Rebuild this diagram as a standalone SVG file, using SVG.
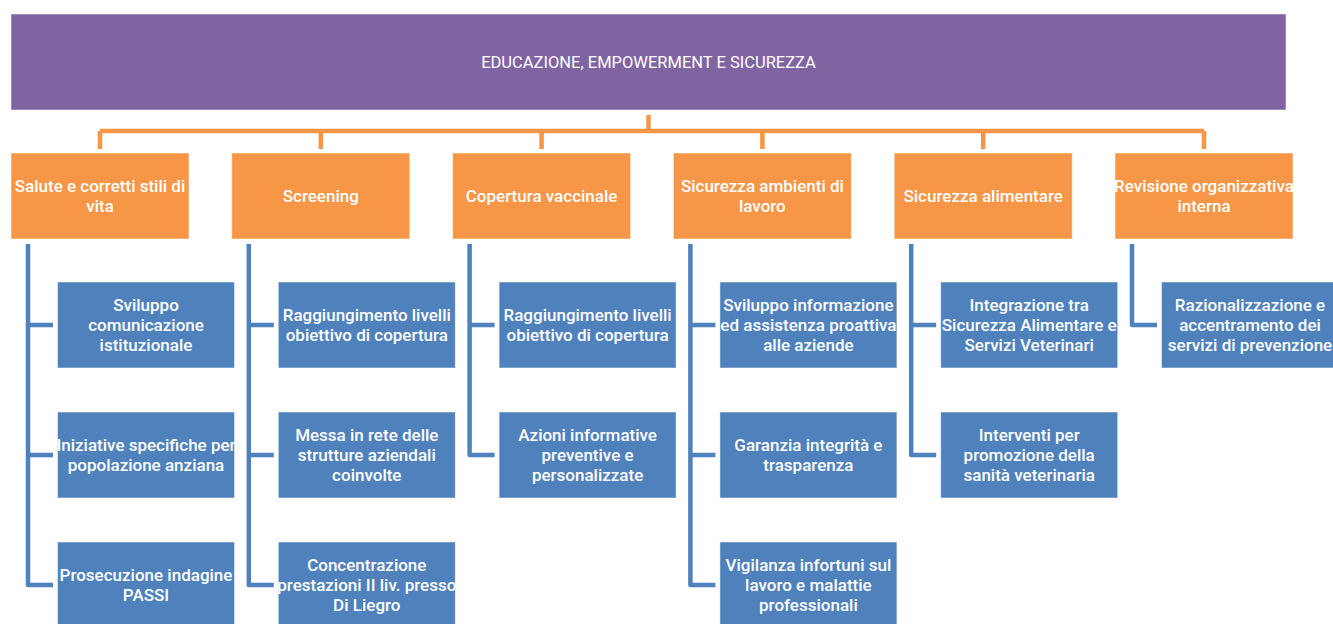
<svg xmlns="http://www.w3.org/2000/svg" width="1333" height="624" viewBox="0 0 1333 624">
<style>
.top{fill:#8064A2;stroke:#fff;stroke-opacity:0.5;stroke-width:1}
.lvl1{fill:#F79646;stroke:#fff;stroke-opacity:0.5;stroke-width:1}
.lvl2{fill:#4F81BD;stroke:#fff;stroke-opacity:0.5;stroke-width:1}
.t{font-family:Roboto,"Liberation Sans",sans-serif;font-weight:500;font-size:17px;fill:#fff;text-anchor:middle}
.tt{font-family:Roboto,"Liberation Sans",sans-serif;font-weight:400;font-size:16.5px;fill:#fff;text-anchor:middle}
.oc{fill:none;stroke:#F79646;stroke-width:4.5}
.bc{fill:none;stroke:#4F81BD;stroke-width:4.5;stroke-linejoin:round}
</style>
<rect width="1333" height="624" fill="#fff"/>
<g id="connectors">
<path class="oc" d="M648.5,115 V131 M100,131 H1204 M100,131 V149 M320.8,131 V149 M541.6,131 V149 M762.4,131 V149 M983.2,131 V149 M1204,131 V149"/>
<path class="bc" d="M28,244 V585 H53 M28,325 H53 M28,455 H53"/>
<path class="bc" d="M248.8,244 V585 H273.8 M248.8,325 H273.8 M248.8,455 H273.8"/>
<path class="bc" d="M469.6,244 V455 H494.6 M469.6,325 H494.6"/>
<path class="bc" d="M690.4,244 V585 H715.4 M690.4,325 H715.4 M690.4,455 H715.4"/>
<path class="bc" d="M911.2,244 V455 H936.2 M911.2,325 H936.2"/>
<path class="bc" d="M1132,244 V325 H1157"/>
</g>
<g id="root"><rect class="top" x="11" y="14" width="1275" height="96"/><text class="tt" x="648.5" y="68">EDUCAZIONE, EMPOWERMENT E SICUREZZA</text></g>

<g id="n1"><rect class="lvl1" x="11" y="153" width="178" height="86"/><text class="t"><tspan x="100" y="192">Salute e corretti stili di</tspan><tspan x="100" y="212">vita</tspan></text></g>
<g id="n2"><rect class="lvl1" x="231.8" y="153" width="178" height="86"/><text class="t" x="320.8" y="202">Screening</text></g>
<g id="n3"><rect class="lvl1" x="452.6" y="153" width="178" height="86"/><text class="t" x="541.6" y="202">Copertura vaccinale</text></g>
<g id="n4"><rect class="lvl1" x="673.4" y="153" width="178" height="86"/><text class="t"><tspan x="762.4" y="192">Sicurezza ambienti di</tspan><tspan x="762.4" y="212">lavoro</tspan></text></g>
<g id="n5"><rect class="lvl1" x="894.2" y="153" width="178" height="86"/><text class="t" x="983.2" y="202">Sicurezza alimentare</text></g>
<g id="n6"><rect class="lvl1" x="1115" y="153" width="178" height="86"/><text class="t"><tspan x="1204" y="192">Revisione organizzativa</tspan><tspan x="1204" y="212">interna</tspan></text></g>

<g id="n1a"><rect class="lvl2" x="57.5" y="282" width="177" height="86"/><text class="t"><tspan x="146" y="311">Sviluppo</tspan><tspan x="146" y="331">comunicazione</tspan><tspan x="146" y="351">istituzionale</tspan></text></g>
<g id="n1b"><rect class="lvl2" x="57.5" y="412" width="177" height="86"/><text class="t"><tspan x="146" y="451">Iniziative specifiche per</tspan><tspan x="146" y="471">popolazione anziana</tspan></text></g>
<g id="n1c"><rect class="lvl2" x="57.5" y="542" width="177" height="86"/><text class="t"><tspan x="146" y="581">Prosecuzione indagine</tspan><tspan x="146" y="601">PASSI</tspan></text></g>

<g id="n2a"><rect class="lvl2" x="278.3" y="282" width="177" height="86"/><text class="t"><tspan x="366.8" y="321">Raggiungimento livelli</tspan><tspan x="366.8" y="341">obiettivo di copertura</tspan></text></g>
<g id="n2b"><rect class="lvl2" x="278.3" y="412" width="177" height="86"/><text class="t"><tspan x="366.8" y="441">Messa in rete delle</tspan><tspan x="366.8" y="461">strutture aziendali</tspan><tspan x="366.8" y="481">coinvolte</tspan></text></g>
<g id="n2c"><rect class="lvl2" x="278.3" y="542" width="177" height="86"/><text class="t"><tspan x="366.8" y="571">Concentrazione</tspan><tspan x="366.8" y="591">prestazioni II liv. presso</tspan><tspan x="366.8" y="611">Di Liegro</tspan></text></g>

<g id="n3a"><rect class="lvl2" x="499.1" y="282" width="177" height="86"/><text class="t"><tspan x="587.6" y="321">Raggiungimento livelli</tspan><tspan x="587.6" y="341">obiettivo di copertura</tspan></text></g>
<g id="n3b"><rect class="lvl2" x="499.1" y="412" width="177" height="86"/><text class="t"><tspan x="587.6" y="441">Azioni informative</tspan><tspan x="587.6" y="461">preventive e</tspan><tspan x="587.6" y="481">personalizzate</tspan></text></g>

<g id="n4a"><rect class="lvl2" x="719.9" y="282" width="177" height="86"/><text class="t"><tspan x="808.4" y="311">Sviluppo informazione</tspan><tspan x="808.4" y="331">ed assistenza proattiva</tspan><tspan x="808.4" y="351">alle aziende</tspan></text></g>
<g id="n4b"><rect class="lvl2" x="719.9" y="412" width="177" height="86"/><text class="t"><tspan x="808.4" y="451">Garanzia integrità e</tspan><tspan x="808.4" y="471">trasparenza</tspan></text></g>
<g id="n4c"><rect class="lvl2" x="719.9" y="542" width="177" height="86"/><text class="t"><tspan x="808.4" y="571">Vigilanza infortuni sul</tspan><tspan x="808.4" y="591">lavoro e malattie</tspan><tspan x="808.4" y="611">professionali</tspan></text></g>

<g id="n5a"><rect class="lvl2" x="940.7" y="282" width="177" height="86"/><text class="t"><tspan x="1029.2" y="311">Integrazione tra</tspan><tspan x="1029.2" y="331">Sicurezza Alimentare e</tspan><tspan x="1029.2" y="351">Servizi Veterinari</tspan></text></g>
<g id="n5b"><rect class="lvl2" x="940.7" y="412" width="177" height="86"/><text class="t"><tspan x="1029.2" y="441">Interventi per</tspan><tspan x="1029.2" y="461">promozione della</tspan><tspan x="1029.2" y="481">sanità veterinaria</tspan></text></g>

<g id="n6a"><rect class="lvl2" x="1161.5" y="282" width="177" height="86"/><text class="t"><tspan x="1250" y="311">Razionalizzazione e</tspan><tspan x="1250" y="331">accentramento dei</tspan><tspan x="1250" y="351">servizi di prevenzione</tspan></text></g>
</svg>
